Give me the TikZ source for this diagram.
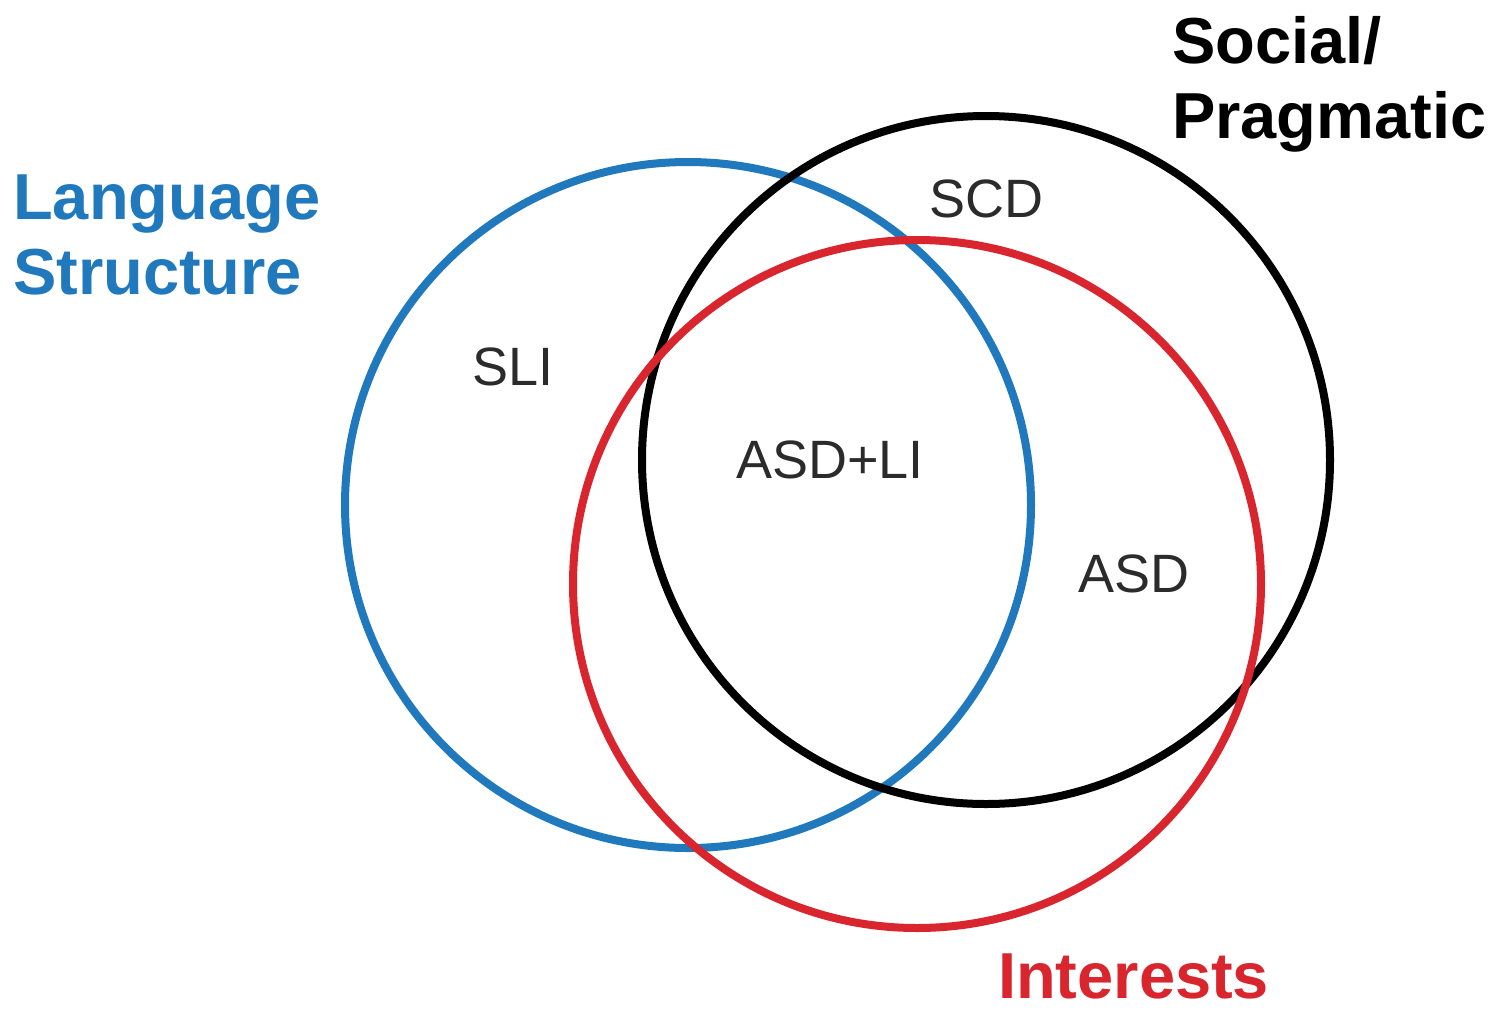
\documentclass[tikz,border=0pt]{standalone}
\usepackage{fontspec}
\setmainfont{Liberation Sans}
\definecolor{vblue}{HTML}{2079BC}
\definecolor{vred}{HTML}{D9252E}
\definecolor{vgray}{HTML}{2B2B2B}
\begin{document}
\begin{tikzpicture}[x=1pt,y=-1pt,
  ring/.style={line width=8pt},
  biglabel/.style={inner sep=0pt,align=left,font=\fontsize{65}{75}\selectfont\bfseries},
  setlabel/.style={inner sep=0pt,anchor=base,text=vgray,font=\fontsize{54}{60}\selectfont}]
\useasboundingbox[fill=white] (0,0) rectangle (1502,1010);
% circles
\draw[ring,vblue] (688,505) circle[radius=343];
\draw[ring,black] (986,460) circle[radius=344];
\draw[ring,vred] (917,584) circle[radius=344];
% category labels
\node[biglabel,text=vblue,anchor=north west] (lang) at (13,175) {Language\\Structure};
\node[biglabel,text=black,anchor=north west] (soc) at (1172,16) {Social/\\Pragmatic};
\node[biglabel,text=vred,anchor=base west] (int) at (998,998) {Interests};
% region labels
\node[setlabel] (sli) at (513,385) {SLI};
\node[setlabel] (scd) at (986,217) {SCD};
\node[setlabel] (asdli) at (830,478) {ASD+LI};
\node[setlabel] (asd) at (1134,592) {ASD};
\end{tikzpicture}
\end{document}
